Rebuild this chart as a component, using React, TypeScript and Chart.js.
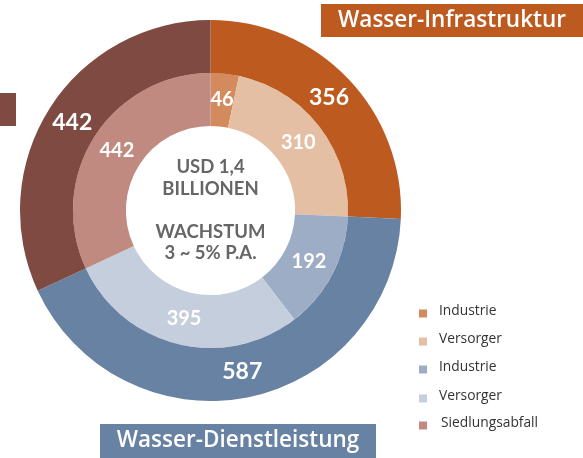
import React, { useEffect, useRef } from "react";
import { Chart, registerables } from "chart.js";

Chart.register(...registerables);

const outerLabels = ["Wasser-Infrastruktur", "Wasser-Dienstleistung", "Siedlungsabfall"];
const outerValues = [356, 587, 442];
const outerColors = ["#BC5A20", "#6882A4", "#7E4A42"];

const innerLabels = ["Industrie", "Versorger", "Industrie", "Versorger", "Siedlungsabfall"];
const innerValues = [46, 310, 192, 395, 442];
const innerColors = ["#D38A5D", "#E5BFA3", "#9DADC5", "#C5CEDC", "#C08A80"];

const centerLines = ["USD 1,4", "BILLIONEN", "", "WACHSTUM", "3 ~ 5% P.A."];

const labelsPlugin = {
  id: "customDecor",
  afterDatasetsDraw(chart: any) {
    const ctx = chart.ctx as CanvasRenderingContext2D;
    ctx.save();
    // value labels
    chart.data.datasets.forEach((ds: any, di: number) => {
      const meta = chart.getDatasetMeta(di);
      meta.data.forEach((arc: any, i: number) => {
        const p = arc.tooltipPosition(false);
        ctx.fillStyle = "#FFFFFF";
        ctx.font = di === 0 ? "bold 23px Lato" : "bold 20px Lato";
        ctx.textAlign = "center";
        ctx.textBaseline = "middle";
        ctx.fillText(String(ds.data[i]), p.x, p.y);
      });
    });
    // center text
    const meta0 = chart.getDatasetMeta(0);
    const a0 = meta0.data[0];
    const cx = a0.x;
    const cy = a0.y;
    ctx.fillStyle = "#666666";
    ctx.font = "bold 18.5px Lato";
    ctx.textAlign = "center";
    ctx.textBaseline = "middle";
    const lh = 21.5;
    const startY = cy - ((centerLines.length - 1) * lh) / 2;
    centerLines.forEach((t, i) => {
      if (t) ctx.fillText(t, cx, startY + i * lh);
    });

    // category boxes
    ctx.fillStyle = outerColors[0];
    ctx.fillRect(321, 4, 262, 33);
    ctx.fillStyle = "#FFFFFF";
    ctx.font = "600 22.5px 'Open Sans'";
    ctx.textAlign = "center";
    ctx.fillText(outerLabels[0], 452, 21);

    ctx.fillStyle = outerColors[1];
    ctx.fillRect(100, 424, 276, 34);
    ctx.fillStyle = "#FFFFFF";
    ctx.fillText(outerLabels[1], 238, 441);

    ctx.fillStyle = outerColors[2];
    ctx.fillRect(-260, 93, 276, 33);
    ctx.fillStyle = "#FFFFFF";
    ctx.textAlign = "right";
    ctx.fillText(outerLabels[2], -20, 110);

    // legend
    const rowY = [313.5, 341.5, 369.5, 398.5, 425.5];
    ctx.font = "13.8px 'Open Sans'";
    ctx.textAlign = "left";
    innerLabels.forEach((t, i) => {
      ctx.fillStyle = innerColors[i];
      ctx.fillRect(419, rowY[i] - 4, 8, 8);
      ctx.fillStyle = "#333333";
      ctx.fillText(t, i === 4 ? 441 : 439, rowY[i] - 2);
    });
    ctx.restore();
  },
};

export default function App() {
  const ref = useRef<HTMLCanvasElement | null>(null);
  useEffect(() => {
    if (!ref.current) return;
    const chart = new Chart(ref.current, {
      type: "doughnut",
      data: {
        labels: innerLabels,
        datasets: [
          {
            label: "outer",
            data: outerValues,
            backgroundColor: outerColors,
            borderWidth: 0,
          },
          {
            label: "inner",
            data: innerValues,
            backgroundColor: innerColors,
            borderWidth: 0,
          },
        ],
      },
      options: {
        responsive: false,
        animation: false,
        cutout: "44.4%",
        layout: { padding: { left: 20, top: 20, right: 182, bottom: 57 } },
        plugins: {
          legend: { display: false },
          tooltip: { enabled: false },
        },
      },
      plugins: [labelsPlugin],
    });
    return () => chart.destroy();
  }, []);
  return (
    <div style={{ position: "absolute", left: 0, top: 0, width: 583, height: 458, background: "#fff" }}>
      <canvas ref={ref} width={583} height={458} style={{ display: "block" }} />
    </div>
  );
}
